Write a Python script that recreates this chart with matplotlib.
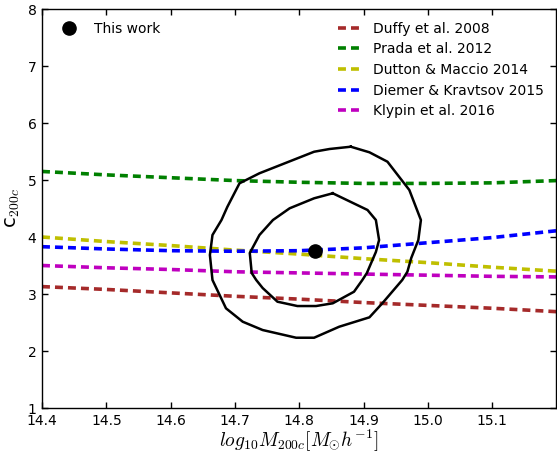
import matplotlib
matplotlib.use("Agg")
import matplotlib.pyplot as plt
import numpy as np

plt.rcParams['mathtext.fontset'] = 'cm'
plt.rcParams['font.family'] = 'DejaVu Sans'

# Mass grid (log10 M200c)
logm = [14.4, 14.5, 14.6, 14.7, 14.8, 14.9, 15.0, 15.1, 15.2]
duffy = [3.13, 3.08, 3.02, 2.96, 2.91, 2.85, 2.80, 2.75, 2.69]
prada = [5.15, 5.09, 5.04, 4.99, 4.96, 4.94, 4.94, 4.95, 4.99]
dutton = [4.00, 3.92, 3.85, 3.77, 3.70, 3.62, 3.55, 3.47, 3.40]
diemer = [3.83, 3.79, 3.76, 3.75, 3.76, 3.81, 3.90, 3.99, 4.11]
klypin = [3.50, 3.46, 3.43, 3.39, 3.37, 3.35, 3.33, 3.31, 3.30]

labels = ["Duffy et al. 2008", "Prada et al. 2012", "Dutton & Maccio 2014",
          "Diemer & Kravtsov 2015", "Klypin et al. 2016"]
colors = ["#a52a2a", "#008000", "#bfbf00", "#0000ff", "#bf00bf"]

# This work: best fit and contours
best_m = 14.825
best_c = 3.76
outer_m = [14.880, 14.909, 14.937, 14.955, 14.971, 14.989, 14.985, 14.974, 14.968,
           14.960, 14.929, 14.909, 14.862, 14.823, 14.795, 14.743, 14.712, 14.686,
           14.665, 14.661, 14.665, 14.679, 14.688, 14.707, 14.738, 14.823, 14.847,
           14.880]
outer_c = [5.584, 5.486, 5.321, 5.058, 4.825, 4.298, 3.947, 3.632, 3.391,
           3.246, 2.837, 2.591, 2.426, 2.233, 2.233, 2.368, 2.514, 2.749,
           3.246, 3.684, 4.035, 4.298, 4.526, 4.942, 5.118, 5.496, 5.544,
           5.584]
inner_m = [14.852, 14.906, 14.919, 14.924, 14.919, 14.905, 14.898, 14.885, 14.852,
           14.826, 14.797, 14.766, 14.743, 14.733, 14.726, 14.723, 14.738, 14.759,
           14.785, 14.823, 14.852]
inner_c = [4.767, 4.474, 4.298, 3.947, 3.737, 3.368, 3.246, 3.040, 2.837,
           2.789, 2.789, 2.865, 3.105, 3.246, 3.368, 3.719, 4.035, 4.298,
           4.504, 4.679, 4.767]

fig = plt.figure(figsize=(5.57, 4.57), dpi=100)
ax = fig.add_axes([0.0754, 0.1072, 0.9228, 0.8731])

series = [duffy, prada, dutton, diemer, klypin]
handles = []
for vals, lab, col in zip(series, labels, colors):
    h, = ax.plot(logm, vals, color=col, lw=2.6, dashes=(2.2, 1.4), label=lab)
    handles.append(h)

ax.plot(outer_m, outer_c, color='k', lw=1.8)
ax.plot(inner_m, inner_c, color='k', lw=1.8)
pt, = ax.plot([best_m], [best_c], 'o', color='k', ms=9.5, label='This work')

ax.set_xlim(14.4, 15.199)
ax.set_ylim(1, 8)
ax.set_xticks([14.4, 14.5, 14.6, 14.7, 14.8, 14.9, 15.0, 15.1])
ax.set_yticks([1, 2, 3, 4, 5, 6, 7, 8])
ax.tick_params(direction='in', top=True, right=True, length=4, width=1, labelsize=10, pad=4)
for s in ax.spines.values():
    s.set_linewidth(1.0)

ax.set_xlabel(r'$log_{10}M_{200c}[M_{\odot}h^{-1}]$', fontsize=14, labelpad=0)
ax.set_ylabel(r'c$_{200c}$', fontsize=14)

leg1 = ax.legend(handles=[pt], loc='upper left', bbox_to_anchor=(0.008, 1.0),
                 frameon=False, fontsize=10,
                 handlelength=1.5, handletextpad=1.05, numpoints=1)
ax.add_artist(leg1)
ax.legend(handles=handles, loc='upper right', frameon=False, fontsize=10,
          handlelength=1.5, handletextpad=1.0, labelspacing=0.48)

fig.savefig('out.png', dpi=100)
